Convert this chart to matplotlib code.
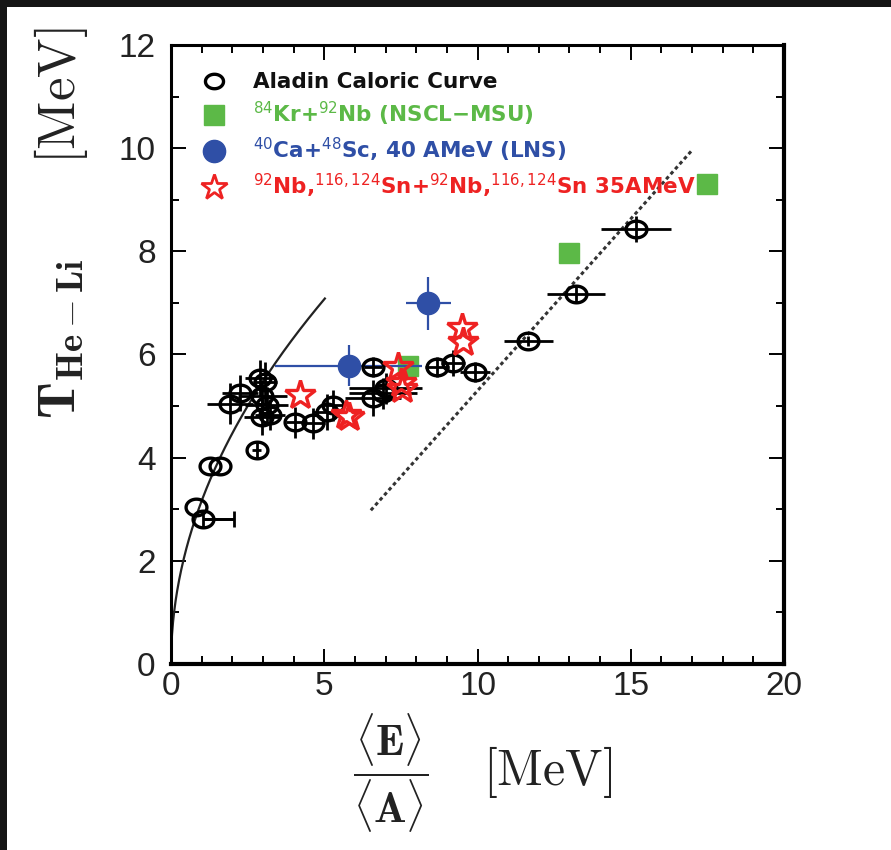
import numpy as np
import matplotlib
matplotlib.use("Agg")
import matplotlib.pyplot as plt
from matplotlib.lines import Line2D
from matplotlib.patches import Rectangle
from matplotlib.path import Path
from matplotlib.font_manager import FontProperties
from matplotlib.ticker import MultipleLocator

plt.rcParams["mathtext.fontset"] = "cm"
plt.rcParams["font.family"] = ["Liberation Sans", "DejaVu Sans"]

# ALADIN caloric curve: excitation energy per nucleon vs. He-Li temperature
aladin_E = [0.80, 1.04, 1.28, 1.60, 2.80, 1.93, 2.25, 2.90, 3.07, 2.97, 2.97, 3.23, 3.13,
            4.05, 4.63, 5.09, 5.29, 6.59, 6.59, 6.92, 7.00, 8.68, 9.20, 9.92, 11.65, 13.21, 15.17]
aladin_T = [3.05, 2.81, 3.84, 3.84, 4.15, 5.05, 5.25, 5.54, 5.46, 5.20, 4.79, 4.83, 5.02,
            4.69, 4.67, 4.88, 5.02, 5.76, 5.15, 5.25, 5.35, 5.76, 5.83, 5.66, 6.26, 7.17, 8.43]
aladin_xerr_lo = [0.0, 0.0, 0.0, 0.0, 0.15, 0.75, 0.60, 0.50, 0.40, 0.80, 0.60, 0.50, 0.70,
                  0.30, 0.40, 0.50, 0.40, 0.30, 0.90, 1.10, 1.20, 0.40, 0.40, 0.50, 0.80, 0.95, 1.15]
aladin_xerr_hi = [0.0, 1.0, 0.0, 0.0, 0.15, 0.75, 0.60, 0.50, 0.40, 0.80, 0.60, 0.50, 0.70,
                  0.30, 0.40, 0.50, 0.40, 0.30, 0.90, 1.10, 1.20, 0.40, 0.40, 0.50, 0.80, 0.95, 1.15]
aladin_yerr = [0.0, 0.0, 0.0, 0.0, 0.15, 0.40, 0.35, 0.35, 0.40, 0.30, 0.35, 0.30, 0.35,
               0.30, 0.30, 0.35, 0.30, 0.20, 0.35, 0.30, 0.30, 0.20, 0.25, 0.20, 0.10, 0.15, 0.25]

# 84Kr + 92Nb (NSCL-MSU)
kr_E = [7.73, 13.0, 17.5]
kr_T = [5.77, 7.97, 9.30]

# 40Ca + 48Sc, 40 AMeV (LNS)
ca_E = [5.80, 8.40]
ca_T = [5.78, 6.99]
ca_xerr = [2.40, 0.73]
ca_yerr = [0.40, 0.52]

# 92Nb,116,124Sn + 92Nb,116,124Sn at 35 AMeV
sn_E = [4.20, 5.70, 5.80, 7.40, 7.50, 7.55, 9.50, 9.53]
sn_T = [5.22, 4.82, 4.78, 5.76, 5.45, 5.33, 6.51, 6.25]

# Fermi-gas curve T = sqrt(E / a), a = 1/10 MeV^-1 per nucleon, and classical-gas line
fermi_a = 0.1
fermi_Emax = 5.02
gas_E = [6.52, 17.0]
gas_T = [2.98, 9.96]

legend_labels = [
    "Aladin Caloric Curve",
    r"$^{84}$Kr+$^{92}$Nb (NSCL$\mathbf{-}$MSU)",
    r"$^{40}$Ca+$^{48}$Sc, 40 AMeV (LNS)",
    r"$^{92}$Nb,$^{116,124}$Sn+$^{92}$Nb,$^{116,124}$Sn 35AMeV",
]

GREEN = "#5cb947"
BLUE = "#2f4fa6"
RED = "#ee2222"

# slightly flattened open circle used for the ALADIN points
_t = np.linspace(0, 2 * np.pi, 73)
ELLIPSE = Path(np.column_stack([np.cos(_t), 0.8 * np.sin(_t)]), closed=True)

fig = plt.figure(figsize=(8.91, 8.5), dpi=100)
fig.patch.set_facecolor("white")
# dark frame along the top and left edges
fig.patches.append(Rectangle((0, 1 - 7 / 850), 1, 7 / 850, transform=fig.transFigure,
                             facecolor="#151515", edgecolor="none", zorder=-10))
fig.patches.append(Rectangle((0, 0), 7 / 891, 1, transform=fig.transFigure,
                             facecolor="#151515", edgecolor="none", zorder=-10))

ax = fig.add_axes([171 / 891, 1 - 664 / 850, 613 / 891, 619 / 850])
ax.set_xlim(0, 20)
ax.set_ylim(0, 12)

# theory curves
Ef = np.linspace(0.0, fermi_Emax, 300)
ax.plot(Ef, np.sqrt(Ef / fermi_a), color="#222222", lw=1.6, zorder=2)
ax.plot(gas_E, gas_T, color="#333333", lw=2.2, linestyle=(0, (1.2, 1.0)), zorder=2)

# data
ax.errorbar(kr_E, kr_T, fmt="s", ms=14, color=GREEN, mec=GREEN, zorder=3)
ax.errorbar(ca_E, ca_T, xerr=ca_xerr, yerr=ca_yerr, fmt="o", ms=16, color=BLUE,
            ecolor=BLUE, elinewidth=1.6, capsize=0, zorder=4)
ax.errorbar(aladin_E, aladin_T, xerr=[aladin_xerr_lo, aladin_xerr_hi], yerr=aladin_yerr,
            fmt="none", ecolor="black", elinewidth=2.0, capsize=0, zorder=5)
ax.errorbar(aladin_E[1], aladin_T[1], xerr=[[aladin_xerr_lo[1]], [aladin_xerr_hi[1]]],
            fmt="none", ecolor="black", elinewidth=2.0, capsize=6, capthick=2.0, zorder=5)
ax.plot(aladin_E, aladin_T, linestyle="none", marker=ELLIPSE, ms=15, mfc="none",
        mec="black", mew=2.4, zorder=5)
ax.plot(sn_E, sn_T, linestyle="none", marker="*", ms=22, mfc="none", mec=RED, mew=2.4,
        zorder=6)

# axes styling
for side in ["left", "top"]:
    ax.spines[side].set_linewidth(2.2)
for side in ["right", "bottom"]:
    ax.spines[side].set_linewidth(3.0)
ax.xaxis.set_major_locator(MultipleLocator(5))
ax.xaxis.set_minor_locator(MultipleLocator(1))
ax.yaxis.set_major_locator(MultipleLocator(2))
ax.yaxis.set_minor_locator(MultipleLocator(1))
ax.tick_params(which="both", direction="in", top=True, right=True, width=1.4,
               labelsize=24)
ax.tick_params(which="major", length=11)
ax.tick_params(which="minor", length=6)
ax.tick_params(axis="x", pad=5)
ax.tick_params(axis="y", pad=11)
for lab in ax.get_xticklabels() + ax.get_yticklabels():
    lab.set_color("#222222")

# legend
handles = [
    Line2D([], [], linestyle="none", marker=ELLIPSE, ms=13, mfc="none", mec="black", mew=2.4),
    Line2D([], [], linestyle="none", marker="s", ms=14, color=GREEN),
    Line2D([], [], linestyle="none", marker="o", ms=16, color=BLUE),
    Line2D([], [], linestyle="none", marker="*", ms=19, mfc="none", mec=RED, mew=2.0),
]
leg_font = FontProperties(family="DejaVu Sans", weight="bold", size=15.5,
                          math_fontfamily="dejavusans")
leg = ax.legend(handles, legend_labels, loc="upper left", bbox_to_anchor=(0.035, 0.97),
                frameon=False, handlelength=1.2, handletextpad=1.2, labelspacing=0.36,
                borderaxespad=0, prop=leg_font,
                labelcolor=["#111111", GREEN, BLUE, RED])

# axis titles
fig.text(61 / 891, 1 - 223 / 850,
         r"$\mathbf{T}_{\mathbf{He-Li}}\qquad[\mathrm{MeV}]$",
         rotation=90, ha="center", va="center", fontsize=38, color="#222222")
fig.text(391 / 891, 1 - 773 / 850,
         r"$\dfrac{\langle\mathbf{E}\rangle}{\langle\mathbf{A}\rangle}$",
         ha="center", va="center", fontsize=31, color="#222222")
fig.text(548 / 891, 1 - 772 / 850, r"$[\mathrm{MeV}]$",
         ha="center", va="center", fontsize=36, color="#222222")

fig.savefig("out.png", dpi=100)
